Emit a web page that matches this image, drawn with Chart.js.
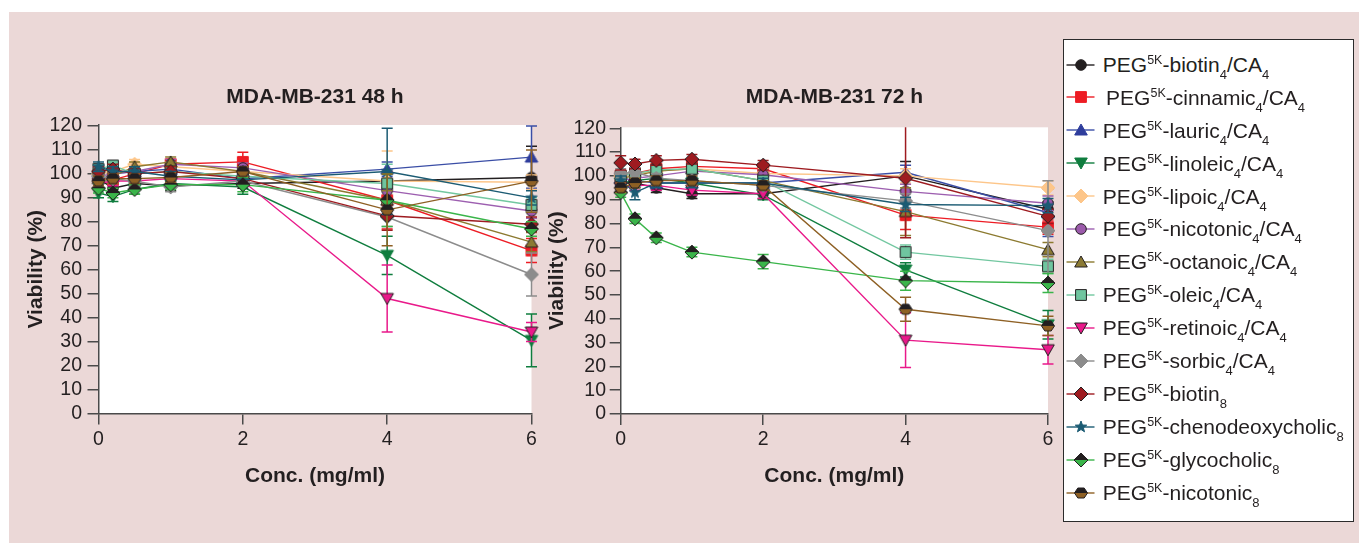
<!DOCTYPE html>
<html><head><meta charset="utf-8">
<script src="https://cdn.jsdelivr.net/npm/chart.js@4.4.1/dist/chart.umd.min.js"></script>
<style>
html,body{margin:0;padding:0;background:#fff;width:1359px;height:543px;overflow:hidden;font-family:"Liberation Sans",Arial,Helvetica,sans-serif;}
#bg{position:absolute;left:9px;top:12px;width:1350px;height:531px;background:#ebd8d7;}
#c1{position:absolute;left:0;top:0;}
#c2{position:absolute;left:520px;top:0;}
#legend{position:absolute;left:1063px;top:39px;width:291px;height:483px;box-sizing:border-box;border:1.5px solid #2b2b2b;background:#fff;}
#legend canvas{position:absolute;}
#legend .txt{position:absolute;font-size:21px;line-height:24px;color:#231f20;white-space:nowrap;}
.sup{font-size:12.5px;position:relative;top:-8px;}
.sub{font-size:13px;position:relative;top:7px;}
</style></head>
<body>
<div id="bg"></div>
<canvas id="c1" width="560" height="543"></canvas>
<canvas id="c2" width="540" height="543"></canvas>
<div id="legend"></div>
<script>
// ---------- data ----------
const conc = [0, 0.2, 0.5, 1, 2, 4, 6];
const xTicks = [0, 2, 4, 6];
const yTicks = [0, 10, 20, 30, 40, 50, 60, 70, 80, 90, 100, 110, 120];
const chartTitles = ['MDA-MB-231 48 h', 'MDA-MB-231 72 h'];
const seriesNames = ['PEG5K-biotin4/CA4','PEG5K-cinnamic4/CA4','PEG5K-lauric4/CA4','PEG5K-linoleic4/CA4','PEG5K-lipoic4/CA4','PEG5K-nicotonic4/CA4','PEG5K-octanoic4/CA4','PEG5K-oleic4/CA4','PEG5K-retinoic4/CA4','PEG5K-sorbic4/CA4','PEG5K-biotin8','PEG5K-chenodeoxycholic8','PEG5K-glycocholic8','PEG5K-nicotonic8'];
const legendLabels = ['PEG^{5K}-biotin_{4}/CA_{4}','PEG^{5K}-cinnamic_{4}/CA_{4}','PEG^{5K}-lauric_{4}/CA_{4}','PEG^{5K}-linoleic_{4}/CA_{4}','PEG^{5K}-lipoic_{4}/CA_{4}','PEG^{5K}-nicotonic_{4}/CA_{4}','PEG^{5K}-octanoic_{4}/CA_{4}','PEG^{5K}-oleic_{4}/CA_{4}','PEG^{5K}-retinoic_{4}/CA_{4}','PEG^{5K}-sorbic_{4}/CA_{4}','PEG^{5K}-biotin_{8}','PEG^{5K}-chenodeoxycholic_{8}','PEG^{5K}-glycocholic_{8}','PEG^{5K}-nicotonic_{8}'];

// 48 h viability (%)
const h48_biotin4      = [98, 94, 96, 95, 96, 97, 98.5];
const h48_cinnamic4    = [99, 97.5, 100, 104, 105, 89, 68];
const h48_lauric4      = [101, 100, 101, 102, 98, 102, 107];
const h48_linoleic4    = [92, 90.5, 93.5, 96, 94.5, 66, 30.5];
const h48_lipoic4      = [100, 101, 104, 103, 101, 97, 96.5];
const h48_nicotonic4   = [99, 100, 101, 104, 102.5, 93, 84.5];
const h48_octanoic4    = [98, 99, 103, 105, 101, 89, 71.5];
const h48_oleic4       = [102, 103.5, 100, 101, 99, 96, 87];
const h48_retinoic4    = [96, 97, 97, 98, 97, 48, 34];
const h48_sorbic4      = [99, 98, 97, 94.5, 97, 82, 58];
const h48_biotin8      = [101, 102, 100, 101, 98, 82.5, 79];
const h48_chenodeoxycholic8 = [103, 101, 101, 99, 97.5, 101, 90];
const h48_glycocholic8 = [94, 92, 93.5, 95.5, 95.5, 89, 77];
const h48_nicotonic8   = [97, 98, 98, 98.5, 101, 85, 97];
// 48 h error (SD)
const e48_biotin4      = [2, 2, 2, 2, 2, 3, 13];
const e48_cinnamic4    = [2, 2, 2, 2, 4, 12, 5];
const e48_lauric4      = [2, 2, 2, 2, 2, 3, 13];
const e48_linoleic4    = [2, 2, 2, 2, 3, 8, 11];
const e48_lipoic4      = [2, 2, 2, 2, 2, 12.5, 3];
const e48_nicotonic4   = [2, 2, 2, 2, 2, 4, 3];
const e48_octanoic4    = [2, 2, 2, 2, 2, 4, 4];
const e48_oleic4       = [2, 2, 2, 2, 2, 8, 3];
const e48_retinoic4    = [2, 2, 2, 2, 2, 14, 4];
const e48_sorbic4      = [2, 2, 2, 2, 2, 4, 9];
const e48_biotin8      = [2, 2, 2, 2, 2, 6, 3];
const e48_chenodeoxycholic8 = [2, 2, 2, 2, 2, 18, 3];
const e48_glycocholic8 = [2, 2, 2, 2, 3, 11, 3];
const e48_nicotonic8   = [2, 2, 2, 2, 2, 15, 13];

// 72 h viability (%)
const h72_biotin4      = [97, 97, 95, 92.5, 92.5, 100, 86];
const h72_cinnamic4    = [100, 101, 103, 104, 103, 83.5, 78.5];
const h72_lauric4      = [99, 98, 97, 97, 97, 101.5, 84.5];
const h72_linoleic4    = [97, 98, 99, 97, 92, 60.5, 37.5];
const h72_lipoic4      = [100, 101, 102, 103, 101, 100, 95];
const h72_nicotonic4   = [98, 99, 100, 102, 100.5, 93.5, 88.5];
const h72_octanoic4    = [99, 100, 102, 103, 98, 85, 69];
const h72_oleic4       = [100, 101, 102.5, 103, 98, 68, 62];
const h72_retinoic4    = [95, 96, 96, 94, 92.5, 31, 27];
const h72_sorbic4      = [101, 101.5, 99, 98, 96, 89.5, 77];
const h72_biotin8      = [105.5, 105, 106.5, 107, 104.5, 99, 83];
const h72_chenodeoxycholic8 = [98, 93, 97, 97, 97, 88, 87.5];
const h72_glycocholic8 = [93, 82, 74, 68, 64, 56, 55];
const h72_nicotonic8   = [95, 97, 98, 98, 96, 44, 37];
// 72 h error (SD)
const e72_biotin4      = [2, 2, 2, 2, 2, 6, 3];
const e72_cinnamic4    = [2, 2, 2, 2, 2, 6, 3];
const e72_lauric4      = [2, 2, 2, 2, 2, 3, 10];
const e72_linoleic4    = [2, 2, 2, 2, 2, 3, 6];
const e72_lipoic4      = [2, 2, 2, 2, 2, 3, 3];
const e72_nicotonic4   = [2, 2, 2, 2, 2, 3, 3];
const e72_octanoic4    = [2, 2, 2, 2, 2, 10, 3];
const e72_oleic4       = [2, 2, 2, 2, 2, 3, 3];
const e72_retinoic4    = [2, 2, 2, 2, 2, 11.5, 6];
const e72_sorbic4      = [2, 2, 2, 2, 2, 3, 21];
const e72_biotin8      = [3, 2, 2, 2, 2, 25, 3];
const e72_chenodeoxycholic8 = [2, 3, 2, 2, 2, 3, 3];
const e72_glycocholic8 = [2, 2, 2, 2, 3, 4, 4];
const e72_nicotonic8   = [2, 2, 2, 2, 2, 5, 4];

const vals48 = [h48_biotin4,h48_cinnamic4,h48_lauric4,h48_linoleic4,h48_lipoic4,h48_nicotonic4,h48_octanoic4,h48_oleic4,h48_retinoic4,h48_sorbic4,h48_biotin8,h48_chenodeoxycholic8,h48_glycocholic8,h48_nicotonic8];
const errs48 = [e48_biotin4,e48_cinnamic4,e48_lauric4,e48_linoleic4,e48_lipoic4,e48_nicotonic4,e48_octanoic4,e48_oleic4,e48_retinoic4,e48_sorbic4,e48_biotin8,e48_chenodeoxycholic8,e48_glycocholic8,e48_nicotonic8];
const vals72 = [h72_biotin4,h72_cinnamic4,h72_lauric4,h72_linoleic4,h72_lipoic4,h72_nicotonic4,h72_octanoic4,h72_oleic4,h72_retinoic4,h72_sorbic4,h72_biotin8,h72_chenodeoxycholic8,h72_glycocholic8,h72_nicotonic8];
const errs72 = [e72_biotin4,e72_cinnamic4,e72_lauric4,e72_linoleic4,e72_lipoic4,e72_nicotonic4,e72_octanoic4,e72_oleic4,e72_retinoic4,e72_sorbic4,e72_biotin8,e72_chenodeoxycholic8,e72_glycocholic8,e72_nicotonic8];

// ---------- styles ----------
const DK = '#231f20';
const styles = [
  {shape:'circle',  fill:'#231f20', stroke:'#231f20', line:'#231f20'},
  {shape:'square',  fill:'#ed1c24', stroke:'#ed1c24', line:'#ed1c24'},
  {shape:'triUp',   fill:'#2e3d9c', stroke:'#2e3d9c', line:'#3a4ea6'},
  {shape:'triDown', fill:'#0f7d3e', stroke:'#0f7d3e', line:'#0f7d3e'},
  {shape:'diamond', fill:'#fdc68a', stroke:'#fdc68a', line:'#fdc68a'},
  {shape:'circle',  fill:'#9b5aab', stroke:DK, line:'#9d5fb0'},
  {shape:'triUp',   fill:'#8b7a33', stroke:DK, line:'#8c7a30'},
  {shape:'square',  fill:'#6fc59f', stroke:DK, line:'#72c7a0'},
  {shape:'triDown', fill:'#e9198a', stroke:DK, line:'#e9198a'},
  {shape:'diamond', fill:'#8c8c8c', stroke:'#8c8c8c', line:'#8c8c8c'},
  {shape:'diamond', fill:'#9e1b20', stroke:DK, line:'#9e1b20'},
  {shape:'star',    fill:'#1b5b73', stroke:'#1b5b73', line:'#1b5b73'},
  {shape:'splitDiamond', fill:'#231f20', fill2:'#3ab54a', stroke:DK, line:'#3ab54a'},
  {shape:'splitHex', fill:'#231f20', fill2:'#8e6024', stroke:DK, line:'#8e6024'}
];
const FAM = '"Liberation Sans", Arial, Helvetica, sans-serif';

function shapePath(ctx, shape, cx, cy) {
  ctx.beginPath();
  switch (shape) {
    case 'circle': ctx.arc(cx, cy, 5.3, 0, Math.PI * 2); break;
    case 'square': ctx.rect(cx - 5.4, cy - 5.4, 10.8, 10.8); break;
    case 'triUp': ctx.moveTo(cx, cy - 6); ctx.lineTo(cx + 6.3, cy + 5); ctx.lineTo(cx - 6.3, cy + 5); ctx.closePath(); break;
    case 'triDown': ctx.moveTo(cx, cy + 6); ctx.lineTo(cx + 6.3, cy - 5); ctx.lineTo(cx - 6.3, cy - 5); ctx.closePath(); break;
    case 'diamond': case 'splitDiamond':
      ctx.moveTo(cx, cy - 7); ctx.lineTo(cx + 7, cy); ctx.lineTo(cx, cy + 7); ctx.lineTo(cx - 7, cy); ctx.closePath(); break;
    case 'splitHex':
      ctx.moveTo(cx - 3.2, cy - 5); ctx.lineTo(cx + 3.2, cy - 5); ctx.lineTo(cx + 6.5, cy); ctx.lineTo(cx + 3.2, cy + 5);
      ctx.lineTo(cx - 3.2, cy + 5); ctx.lineTo(cx - 6.5, cy); ctx.closePath(); break;
    case 'star':
      for (let k = 0; k < 10; k++) {
        const r = k % 2 === 0 ? 6 : 2.5;
        const a = -Math.PI / 2 + k * Math.PI / 5;
        const px = cx + r * Math.cos(a), py = cy + r * Math.sin(a);
        if (k === 0) ctx.moveTo(px, py); else ctx.lineTo(px, py);
      }
      ctx.closePath(); break;
  }
}
function drawMarker(ctx, st, cx, cy) {
  ctx.save();
  ctx.lineWidth = 1;
  ctx.strokeStyle = st.stroke;
  if (st.shape === 'splitDiamond' || st.shape === 'splitHex') {
    shapePath(ctx, st.shape, cx, cy);
    ctx.save(); ctx.clip();
    ctx.fillStyle = st.fill2; ctx.fillRect(cx - 8, cy, 16, 8);
    ctx.fillStyle = st.fill; ctx.fillRect(cx - 8, cy - 8, 16, 8);
    ctx.restore();
    ctx.stroke();
  } else {
    shapePath(ctx, st.shape, cx, cy);
    ctx.fillStyle = st.fill; ctx.fill(); ctx.stroke();
  }
  ctx.restore();
}
const markerImgs = styles.map(st => {
  const c = document.createElement('canvas');
  c.width = 18; c.height = 18;
  drawMarker(c.getContext('2d'), st, 9, 9);
  return c;
});

// ---------- plugins ----------
function makePlugins(errList, title, titleY) {
  return [{
    id: 'plotBg',
    beforeDraw(chart) {
      const {ctx, chartArea: a} = chart;
      ctx.save(); ctx.fillStyle = '#ffffff';
      ctx.fillRect(a.left, a.top, a.right - a.left, a.bottom - a.top);
      ctx.restore();
    },
    afterDraw(chart) {
      const {ctx, chartArea: a} = chart;
      ctx.save();
      ctx.font = 'bold 21px ' + FAM;
      ctx.fillStyle = DK; ctx.textAlign = 'center'; ctx.textBaseline = 'middle';
      ctx.fillText(title, (a.left + a.right) / 2, titleY);
      ctx.restore();
    }
  }, {
    id: 'errBars',
    beforeDatasetDraw(chart, args) {
      const i = args.index;
      const errs = errList[i];
      const ds = chart.data.datasets[i];
      const ys = chart.scales.y;
      const a = chart.chartArea;
      const ctx = chart.ctx;
      ctx.save();
      ctx.beginPath();
      ctx.rect(a.left - 40, a.top, a.right - a.left + 80, a.bottom - a.top + 40);
      ctx.clip();
      ctx.strokeStyle = styles[i].line;
      ctx.lineWidth = 1.5;
      args.meta.data.forEach((pt, j) => {
        const v = ds.data[j].y, e = errs[j];
        const yt = ys.getPixelForValue(v + e), yb = ys.getPixelForValue(v - e);
        const x = pt.x;
        ctx.beginPath();
        ctx.moveTo(x, yt); ctx.lineTo(x, yb);
        ctx.moveTo(x - 5.5, yt); ctx.lineTo(x + 5.5, yt);
        ctx.moveTo(x - 5.5, yb); ctx.lineTo(x + 5.5, yb);
        ctx.stroke();
      });
      ctx.restore();
    }
  }];
}

function buildChart(id, valsList, errList, title, g) {
  const datasets = valsList.map((vals, i) => ({
    label: seriesNames[i],
    data: conc.map((x, j) => ({x: x, y: vals[j]})),
    borderColor: styles[i].line,
    backgroundColor: styles[i].fill,
    borderWidth: 1.4,
    pointStyle: markerImgs[i],
    pointRadius: 6,
    pointHoverRadius: 6,
    tension: 0,
    fill: false,
    clip: false,
    order: valsList.length - i
  }));
  const axisColor = '#4a4a4a';
  return new Chart(document.getElementById(id), {
    type: 'line',
    data: {datasets},
    plugins: makePlugins(errList, title, g.titleY),
    options: {
      responsive: false, animation: false, devicePixelRatio: 1, events: [],
      layout: {padding: g.padding},
      plugins: {legend: {display: false}, tooltip: {enabled: false}, title: {display: false}},
      scales: {
        x: {
          type: 'linear', min: 0, max: 6,
          afterFit: s => { s.height = g.xHeight; },
          afterBuildTicks: s => { s.ticks = xTicks.map(v => ({value: v})); },
          grid: {drawOnChartArea: false, drawTicks: true, tickLength: 11, color: axisColor, lineWidth: 1.5},
          border: {display: true, color: axisColor, width: 1.5},
          ticks: {font: {size: 19.5, family: FAM}, color: DK, padding: g.xPad, maxRotation: 0, autoSkip: false},
          title: {display: true, text: 'Conc. (mg/ml)', color: DK, font: {size: 21, weight: 'bold', family: FAM}, padding: {top: 0, bottom: g.xTitlePad}}
        },
        y: {
          type: 'linear', min: 0, max: 120.4,
          afterFit: s => { s.width = g.yWidth; },
          afterBuildTicks: s => { s.ticks = yTicks.map(v => ({value: v})); },
          grid: {drawOnChartArea: false, drawTicks: true, tickLength: 11, color: axisColor, lineWidth: 1.5},
          border: {display: true, color: axisColor, width: 1.5},
          ticks: {font: {size: 19.5, family: FAM}, color: DK, padding: g.yPad, autoSkip: false},
          title: {display: true, text: 'Viability (%)', color: DK, font: {size: 21, weight: 'bold', family: FAM}, padding: {top: g.yTitlePad, bottom: 0}}
        }
      }
    }
  });
}

buildChart('c1', vals48, errs48, chartTitles[0], {
  padding: {left: 10, top: 125, right: 28.5, bottom: 49.5},
  xHeight: 80, yWidth: 88.5, xPad: 3.8, yPad: 5.5, yTitlePad: 13.4, xTitlePad: 4.2, titleY: 97.7
});
buildChart('c2', vals72, errs72, chartTitles[1], {
  padding: {left: 10, top: 127.3, right: 12, bottom: 49},
  xHeight: 80, yWidth: 90.7, xPad: 3.3, yPad: 3.7, yTitlePad: 14.9, xTitlePad: 4.7, titleY: 97.7
});

// ---------- legend ----------
const legend = document.getElementById('legend');
const innerX = 1064.5, innerY = 40.5;
legendLabels.forEach((lab, i) => {
  const rowY = 65 + i * 32.95;
  const c = document.createElement('canvas');
  c.width = 30; c.height = 18;
  c.style.left = (1066.5 - innerX) + 'px';
  c.style.top = (rowY - 9 - innerY) + 'px';
  const ctx = c.getContext('2d');
  ctx.strokeStyle = styles[i].line; ctx.lineWidth = 1.4;
  ctx.beginPath(); ctx.moveTo(0.5, 9); ctx.lineTo(28.5, 9); ctx.stroke();
  drawMarker(ctx, styles[i], 15, 9);
  legend.appendChild(c);
  const t = document.createElement('div');
  t.className = 'txt';
  t.innerHTML = lab.replace(/\^\{([^}]*)\}/g, '<span class="sup">$1</span>').replace(/_\{([^}]*)\}/g, '<span class="sub">$1</span>');
  t.style.left = (1103.3 - innerX + (i === 1 ? 3.3 : 0)) + 'px';
  t.style.top = (rowY - 11.8 - innerY) + 'px';
  legend.appendChild(t);
});
</script>
</body></html>
